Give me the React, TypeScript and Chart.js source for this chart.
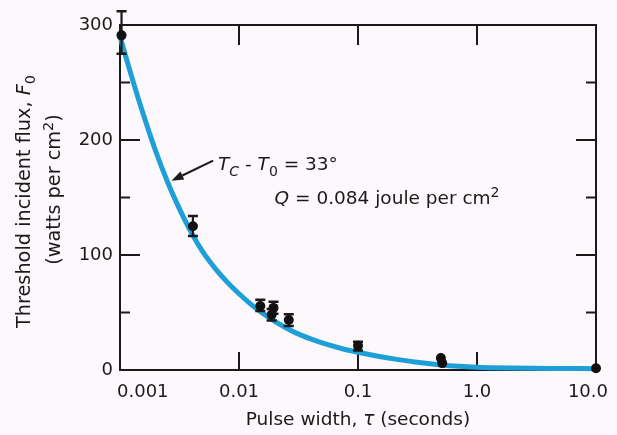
import { useEffect, useRef } from 'react';
import { Chart, registerables } from 'chart.js';

Chart.register(...registerables);

// ---- data ----
const curveTau = [0.001, 0.0012, 0.0015, 0.002, 0.0025, 0.003, 0.004, 0.005, 0.0065, 0.008, 0.01, 0.013, 0.016, 0.02, 0.025, 0.03, 0.04, 0.05, 0.07, 0.1, 0.14, 0.2, 0.3, 0.5, 0.7, 1, 2, 4, 10];
const curveF = [290, 261.6, 228.7, 190, 163.9, 145.1, 119, 102.2, 86.6, 76.2, 66.3, 56, 49, 42.3, 36.5, 32.3, 27, 23.5, 19.1, 15.4, 12.4, 9.7, 7, 4.4, 3.2, 2.4, 1.7, 1.35, 1.15];

const pointTau = [0.00103, 0.0041, 0.0151, 0.0195, 0.0188, 0.0262, 0.1, 0.497, 0.51, 10];
const pointF = [291, 125, 55.7, 54, 48, 43.5, 21, 10.5, 6, 1.5];
const errLow: (number | null)[] = [275, 116.5, 51.3, 49, 43, 38.3, 17, null, null, null];
const errHigh: (number | null)[] = [312, 134, 61, 59.4, 53, 48.4, 24.5, null, null, null];

const xTickValues = [0.001, 0.01, 0.1, 1, 10];
const xTickLabels = ['0.001', '0.01', '0.1', '1.0', '10.0'];
const xInnerTicks = [0.01, 0.1, 1];
const yTickValues = [0, 100, 200, 300];
const yMajorInner = [100, 200];
const yMinorInner = [50, 150, 250];

// annotation anchors in data coordinates
const arrowTail = { tau: 0.00606, f: 182 };
const arrowTip = { tau: 0.00271, f: 164.6 };
const note1Anchor = { tau: 0.00667, f: 174.3 };
const note2Anchor = { tau: 0.0199, f: 144.3 };

const FAM = '"DejaVu Sans", "Liberation Sans", sans-serif';
const BG = '#fcf8fc';
const INK = '#1a1a1a';
const BLUE = '#1e9fd8';

type Seg = { t: string; f: string; dy?: number };

function drawRich(ctx: CanvasRenderingContext2D, segs: Seg[], x: number, y: number, align: 'left' | 'center') {
  let w = 0;
  for (const s of segs) {
    ctx.font = s.f;
    w += ctx.measureText(s.t).width;
  }
  let cx = align === 'center' ? x - w / 2 : x;
  ctx.textAlign = 'left';
  ctx.textBaseline = 'alphabetic';
  for (const s of segs) {
    ctx.font = s.f;
    ctx.fillText(s.t, cx, y + (s.dy || 0));
    cx += ctx.measureText(s.t).width;
  }
}

const N = `18.5px ${FAM}`;
const I = `italic 18.5px ${FAM}`;
const S = `14px ${FAM}`;
const SI = `italic 14px ${FAM}`;
const YN = `19.3px ${FAM}`;
const YI = `italic 19.3px ${FAM}`;
const YS = `14.5px ${FAM}`;

const decorPlugin = {
  id: 'decor',
  beforeDraw(chart: any) {
    const ctx = chart.ctx as CanvasRenderingContext2D;
    ctx.save();
    ctx.fillStyle = BG;
    ctx.fillRect(0, 0, chart.width, chart.height);
    ctx.restore();
  },
  beforeDatasetsDraw(chart: any) {
    const ctx = chart.ctx as CanvasRenderingContext2D;
    const { left, right, top, bottom } = chart.chartArea;
    const xs = chart.scales.x;
    const ys = chart.scales.y;
    ctx.save();
    ctx.strokeStyle = INK;
    ctx.lineWidth = 2;
    ctx.strokeRect(left, top, right - left, bottom - top);
    ctx.beginPath();
    for (const v of yMajorInner) {
      const y = ys.getPixelForValue(v);
      ctx.moveTo(left, y); ctx.lineTo(left + 20, y);
      ctx.moveTo(right, y); ctx.lineTo(right - 20, y);
    }
    for (const v of yMinorInner) {
      const y = ys.getPixelForValue(v);
      ctx.moveTo(left, y); ctx.lineTo(left + 10, y);
      ctx.moveTo(right, y); ctx.lineTo(right - 10, y);
    }
    for (const v of xInnerTicks) {
      const x = xs.getPixelForValue(v);
      ctx.moveTo(x, bottom); ctx.lineTo(x, bottom - 18);
      ctx.moveTo(x, top); ctx.lineTo(x, top + 20);
    }
    ctx.stroke();

    // x tick labels
    ctx.fillStyle = INK;
    ctx.font = `18px ${FAM}`;
    ctx.textBaseline = 'alphabetic';
    ctx.textAlign = 'left';
    xTickValues.forEach((v, i) => {
      const px = xs.getPixelForValue(v);
      const w = ctx.measureText(xTickLabels[i]).width;
      let lx = px - w / 2;
      if (lx < left - 3) lx = left - 3;
      if (lx + w > right + 12) lx = right + 12 - w;
      ctx.fillText(xTickLabels[i], lx, bottom + 27);
    });

    // x title
    drawRich(ctx, [
      { t: 'Pulse width, ', f: N },
      { t: 'τ', f: I },
      { t: ' (seconds)', f: N },
    ], (left + right) / 2, bottom + 55, 'center');

    // y title (rotated)
    const yc = (top + bottom) / 2;
    ctx.save();
    ctx.translate(29.5, yc + 4);
    ctx.rotate(-Math.PI / 2);
    drawRich(ctx, [
      { t: 'Threshold incident flux, ', f: YN },
      { t: 'F', f: YI },
      { t: '0', f: YS, dy: 5 },
    ], 0, 0, 'center');
    ctx.restore();
    ctx.save();
    ctx.translate(59.5, yc - 8);
    ctx.rotate(-Math.PI / 2);
    drawRich(ctx, [
      { t: '(watts per cm', f: YN },
      { t: '2', f: YS, dy: -7 },
      { t: ')', f: YN },
    ], 0, 0, 'center');
    ctx.restore();

    // annotation
    const tx = xs.getPixelForValue(arrowTail.tau), ty = ys.getPixelForValue(arrowTail.f);
    const hx = xs.getPixelForValue(arrowTip.tau), hy = ys.getPixelForValue(arrowTip.f);
    const ang = Math.atan2(hy - ty, hx - tx);
    const hl = 12, hw = 4.5;
    const bx = hx - hl * Math.cos(ang), by = hy - hl * Math.sin(ang);
    ctx.lineWidth = 2;
    ctx.beginPath();
    ctx.moveTo(tx, ty); ctx.lineTo(bx, by);
    ctx.stroke();
    ctx.beginPath();
    ctx.moveTo(hx, hy);
    ctx.lineTo(bx + hw * Math.sin(ang), by - hw * Math.cos(ang));
    ctx.lineTo(bx - hw * Math.sin(ang), by + hw * Math.cos(ang));
    ctx.closePath();
    ctx.fill();

    drawRich(ctx, [
      { t: 'T', f: I },
      { t: 'C', f: SI, dy: 6 },
      { t: ' - ', f: N },
      { t: 'T', f: I },
      { t: '0', f: S, dy: 6 },
      { t: ' = 33°', f: N },
    ], xs.getPixelForValue(note1Anchor.tau), ys.getPixelForValue(note1Anchor.f), 'left');
    drawRich(ctx, [
      { t: 'Q', f: I },
      { t: ' = 0.084 joule per cm', f: N },
      { t: '2', f: S, dy: -7 },
    ], xs.getPixelForValue(note2Anchor.tau), ys.getPixelForValue(note2Anchor.f), 'left');
    ctx.restore();
  },
  beforeDatasetDraw(chart: any, args: any) {
    if (args.index !== 0) return;
    const ctx = chart.ctx as CanvasRenderingContext2D;
    const xs = chart.scales.x;
    const ys = chart.scales.y;
    ctx.save();
    ctx.strokeStyle = INK;
    pointTau.forEach((t, i) => {
      const lo = errLow[i], hi = errHigh[i];
      if (lo == null || hi == null) return;
      const x = xs.getPixelForValue(t);
      const y1 = ys.getPixelForValue(lo), y2 = ys.getPixelForValue(hi);
      ctx.lineWidth = 2.2;
      ctx.beginPath();
      ctx.moveTo(x, y1); ctx.lineTo(x, y2);
      ctx.stroke();
      ctx.lineWidth = 2.5;
      ctx.beginPath();
      ctx.moveTo(x - 5, y1); ctx.lineTo(x + 5, y1);
      ctx.moveTo(x - 5, y2); ctx.lineTo(x + 5, y2);
      ctx.stroke();
    });
    ctx.restore();
  },
};

export default function App() {
  const ref = useRef<HTMLCanvasElement | null>(null);
  useEffect(() => {
    if (!ref.current) return;
    const chart = new Chart(ref.current, {
      type: 'scatter',
      data: {
        datasets: [
          {
            type: 'scatter',
            data: pointTau.map((t, i) => ({ x: t, y: pointF[i] })),
            pointRadius: 5,
            backgroundColor: '#111',
            borderWidth: 0,
            clip: false,
            order: 0,
          } as any,
          {
            type: 'line',
            data: curveTau.map((t, i) => ({ x: t, y: curveF[i] })),
            borderColor: BLUE,
            borderWidth: 5,
            pointRadius: 0,
            cubicInterpolationMode: 'monotone',
            fill: false,
            clip: false,
            order: 1,
          } as any,
        ],
      },
      options: {
        animation: false,
        responsive: true,
        maintainAspectRatio: false,
        events: [],
        layout: { padding: { top: 25, right: 21, left: 0, bottom: 0 } },
        plugins: { legend: { display: false }, tooltip: { enabled: false } },
        scales: {
          x: {
            type: 'logarithmic',
            position: 'bottom',
            min: 0.001,
            max: 10,
            grid: { display: false, drawTicks: false },
            border: { display: false },
            ticks: { display: false },
            afterFit: (s: any) => { s.height = 65; },
          },
          y: {
            type: 'linear',
            min: 0,
            max: 300,
            grid: { display: false, drawTicks: false },
            border: { display: false },
            afterBuildTicks: (s: any) => { s.ticks = yTickValues.map((v) => ({ value: v })); },
            ticks: { color: INK, padding: 7, font: { family: FAM, size: 18 } },
            afterFit: (s: any) => { s.width = 120; },
          },
        },
      } as any,
      plugins: [decorPlugin],
    });
    return () => chart.destroy();
  }, []);
  return (
    <div style={{ position: 'fixed', left: 0, top: 0, width: 617, height: 435, background: BG }}>
      <canvas ref={ref} />
    </div>
  );
}
